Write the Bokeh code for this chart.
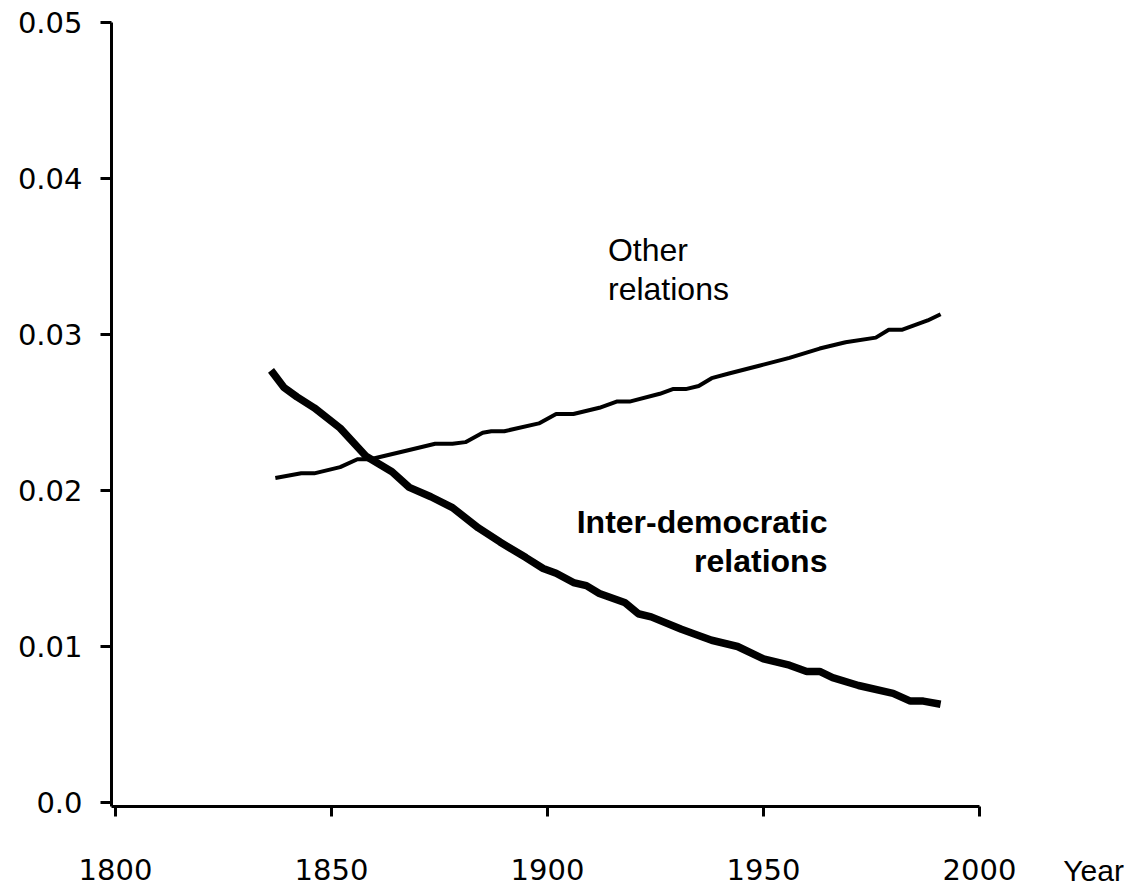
from bokeh.plotting import figure
from bokeh.models import Range1d, FixedTicker, CustomJSTickFormatter, Label
from bokeh.embed import file_html
from bokeh.resources import INLINE

# Inter-democratic relations (thick line)
dem_years = [1836, 1839, 1842, 1846, 1852, 1858, 1861, 1864, 1868, 1873, 1878, 1884,
             1889, 1895, 1899, 1902, 1906, 1909, 1912, 1918, 1921, 1924, 1931, 1934,
             1938, 1944, 1950, 1956, 1960, 1963, 1966, 1972, 1980, 1984, 1987, 1991]
dem_values = [0.0277, 0.0266, 0.0260, 0.0253, 0.0240, 0.0222, 0.0217, 0.0212, 0.0202,
              0.0196, 0.0189, 0.0176, 0.0167, 0.0157, 0.0150, 0.0147, 0.0141, 0.0139,
              0.0134, 0.0128, 0.0121, 0.0119, 0.0111, 0.0108, 0.0104, 0.0100, 0.0092,
              0.0088, 0.0084, 0.0084, 0.0080, 0.0075, 0.0070, 0.0065, 0.0065, 0.0063]

# Other relations (thin line)
oth_years = [1837, 1843, 1846, 1852, 1856, 1859, 1868, 1874, 1878, 1881, 1885, 1887,
             1890, 1898, 1902, 1906, 1912, 1916, 1919, 1926, 1929, 1932, 1935, 1938,
             1942, 1949, 1956, 1963, 1969, 1976, 1979, 1982, 1985, 1988, 1991]
oth_values = [0.0208, 0.0211, 0.0211, 0.0215, 0.0220, 0.0220, 0.0226, 0.0230, 0.0230,
              0.0231, 0.0237, 0.0238, 0.0238, 0.0243, 0.0249, 0.0249, 0.0253, 0.0257,
              0.0257, 0.0262, 0.0265, 0.0265, 0.0267, 0.0272, 0.0275, 0.0280, 0.0285,
              0.0291, 0.0295, 0.0298, 0.0303, 0.0303, 0.0306, 0.0309, 0.0313]

x_ticks = [1800, 1850, 1900, 1950, 2000]
y_ticks = [0.0, 0.01, 0.02, 0.03, 0.04, 0.05]

X0, X1 = 1799.074, 2000.0      # extent of the x axis line
Y0, Y1 = -0.000256, 0.05       # extent of the y axis line

p = figure(width=1133, height=888, output_backend="svg", toolbar_location=None,
           x_range=Range1d(1773.38, 2035.65), y_range=Range1d(-0.005513, 0.05141))
p.min_border = 0
p.min_border_left = 0
p.min_border_top = 0
p.min_border_right = 0
p.min_border_bottom = 0
p.outline_line_color = None
p.background_fill_color = "white"
p.border_fill_color = "white"
p.xgrid.visible = False
p.ygrid.visible = False

p.line(oth_years, oth_values, line_color="black", line_width=4)
p.line(dem_years, dem_values, line_color="black", line_width=7.5)

for ax in (p.xaxis[0], p.yaxis[0]):
    ax.axis_line_width = 3
    ax.axis_line_color = "black"
    ax.major_tick_line_width = 3
    ax.major_tick_line_color = "black"
    ax.major_tick_in = 0
    ax.minor_tick_out = 0
    ax.minor_tick_in = 0
    ax.major_label_text_font = "DejaVu Sans"
    ax.major_label_text_font_size = "29px"
    ax.major_label_text_color = "black"

xa = p.xaxis[0]
xa.ticker = FixedTicker(ticks=x_ticks)
xa.major_tick_out = 10
xa.major_label_standoff = 43
xa.bounds = (X0, X1)
xa.fixed_location = Y0

ya = p.yaxis[0]
ya.ticker = FixedTicker(ticks=y_ticks)
ya.major_tick_out = 11
ya.major_label_standoff = 18
ya.bounds = (Y0, Y1)
ya.fixed_location = X0
ya.formatter = CustomJSTickFormatter(
    code="return tick == 0 ? '0.0' : tick.toFixed(2);")

def lab(x, y, text, align="left", bold=False, size="32px"):
    p.add_layout(Label(x=x, y=y, text=text, text_font="Liberation Sans",
                       text_font_size=size, text_align=align,
                       text_baseline="alphabetic", text_color="black",
                       text_font_style="bold" if bold else "normal"))

lab(1914.0, 0.03539, "Other")
lab(1914.0, 0.03289, "relations")
lab(1964.8, 0.01801, "Inter-democratic", align="right", bold=True)
lab(1964.8, 0.01545, "relations", align="right", bold=True)
lab(2019.4, -0.00436, "Year", size="30px")

open("out.html", "w").write(file_html(p, INLINE))
